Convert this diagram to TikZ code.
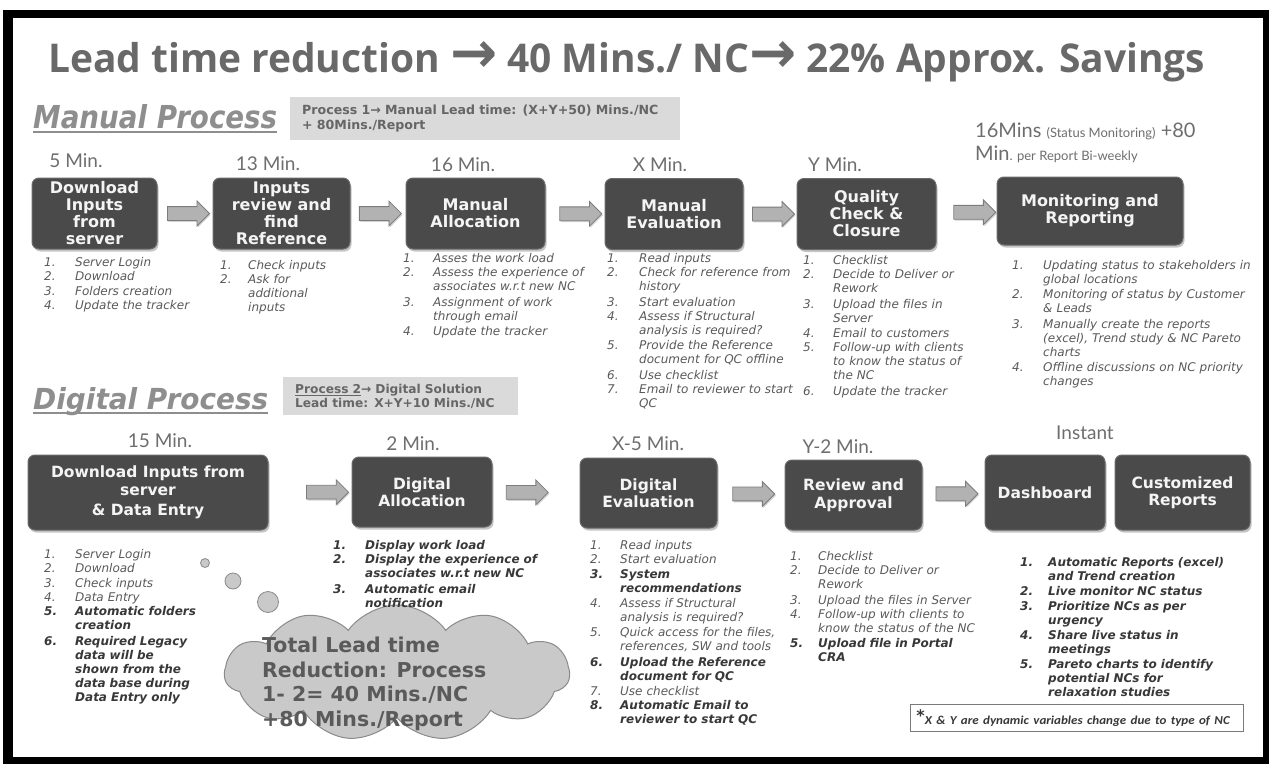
\documentclass[tikz,border=0pt]{standalone}
\usepackage{fontspec}
\setmainfont{DejaVu Sans}
\newfontfamily\ttlfont{Open Sans}
\newfontfamily\timefont{Lato}
\newfontfamily\notefont{Carlito}
\newfontfamily\symf{DejaVu Sans}
\usetikzlibrary{shapes.symbols,shapes.arrows,shadows,calc}

\definecolor{boxfill}{HTML}{4A4A4A}
\definecolor{boxedge}{HTML}{6A6A6A}
\definecolor{boxtext}{HTML}{F4F4F4}
\definecolor{arrfill}{HTML}{B2B2B2}
\definecolor{arredge}{HTML}{7C7C7C}
\definecolor{txtgray}{HTML}{5A5A5A}
\definecolor{txtdark}{HTML}{383838}
\definecolor{headgray}{HTML}{8E8E8E}
\definecolor{titlegray}{HTML}{696969}
\definecolor{timegray}{HTML}{6E6E6E}
\definecolor{panelgray}{HTML}{DADADA}
\definecolor{paneltext}{HTML}{666666}
\definecolor{cloudfill}{HTML}{C9C9C9}
\definecolor{cloudedge}{HTML}{8A8A8A}
\definecolor{notegray}{HTML}{7A7A7A}

\newlength\lind
% one numbered entry: number in a fixed slot, wrapped text kept under its first line
\newcommand\itm[2]{\par\noindent\makebox[\lind][l]{\strut#1}%
  \parbox[t]{225pt}{\raggedright\strut#2\strut}}
% the same entry set in bold
\newcommand\bitm[2]{\itm{\textcolor{txtdark}{\bfseries #1}}{\textcolor{txtdark}{\bfseries #2}}}

\tikzset{
  pbox/.style={rectangle, rounded corners=7pt, fill=boxfill, draw=boxedge, line width=1pt,
    text=boxtext, align=center, inner sep=2pt,
    drop shadow={shadow xshift=1.5pt, shadow yshift=-2.5pt, opacity=0.45}},
  mfont/.style={font=\bfseries\fontsize{16}{17}\selectfont},
  dfont/.style={font=\bfseries\fontsize{15.5}{17.5}\selectfont},
  barr/.style={single arrow, single arrow head extend=5.5pt, minimum height=42pt,
    inner xsep=0pt, inner ysep=6.5pt, fill=arrfill, draw=arredge, line width=0.8pt,
    drop shadow={shadow xshift=1pt, shadow yshift=-1.5pt, opacity=0.35}},
  tlab/.style={font=\timefont\fontsize{19}{22}\selectfont, text=timegray, inner sep=0pt, anchor=base},
  lst/.style={anchor=north west, inner sep=0pt, text width=270pt, align=left, text=txtgray,
    font=\fontsize{12}{14}\selectfont\itshape,
    execute at begin node={\setlength\lind{#1}\setlength\parskip{0.3pt}\lineskiplimit=-2pt\relax}},
  panel/.style={fill=panelgray, anchor=north west, inner xsep=12pt, inner ysep=0pt, align=left,
    text=paneltext},
  bubble/.style={circle, draw=cloudedge, fill=cloudfill, inner sep=0pt, line width=0.8pt},
}

\begin{document}
\begin{tikzpicture}[x=1pt,y=-1pt]
\useasboundingbox (0,0) rectangle (1269,768);
\fill[white] (0,0) rectangle (1269,768);
% frame
\fill[black] (3,10) rectangle (1269,764);
\fill[white] (13,18) rectangle (1263,757);

% title
\node[anchor=base west, inner sep=0pt, text=titlegray] (title) at (48,72)
  {\resizebox{1157pt}{31pt}{\ttlfont\bfseries Lead time reduction {\symf\bfseries\scalebox{1.45}{→}} 40 Mins./ NC{\symf\bfseries\scalebox{1.45}{→}} 22\% Approx. Savings}};

% ---------------- manual process ----------------
\node[anchor=base west, inner sep=0pt, text=headgray] (hman) at (33,128)
  {\resizebox{244pt}{24pt}{\bfseries\itshape Manual Process}};
\draw[headgray, line width=1.4pt] ([yshift=-4pt]hman.base west) -- ([yshift=-4pt]hman.base east);

\node[panel, minimum width=390pt, minimum height=43pt, text width=366pt,
  font=\bfseries\fontsize{12.6}{14.5}\selectfont] (p1) at (290,97)
  {Process 1→ Manual Lead time: (X+Y+50) Mins./NC\\+ 80Mins./Report};

\node[tlab] (t1) at (76,167) {5 Min.};
\node[tlab] (t2) at (268,170) {13 Min.};
\node[tlab] (t3) at (463,171) {16 Min.};
\node[tlab] (t4) at (660,171) {X Min.};
\node[tlab] (t5) at (835,171) {Y Min.};
\node[anchor=base west, inner sep=0pt, text=timegray, font=\timefont] (t6a) at (975,137)
  {\fontsize{20}{23}\selectfont 16Mins {\fontsize{13}{15}\selectfont (Status Monitoring)} +80};
\node[anchor=base west, inner sep=0pt, text=timegray, font=\timefont] (t6b) at (975,160)
  {\fontsize{20}{23}\selectfont Min{\fontsize{13}{15}\selectfont . per Report Bi-weekly}};

\node[pbox, mfont, minimum width=125pt, minimum height=71pt] (m1) at (94.5,213.5) {Download\\Inputs\\from\\server};
\node[pbox, mfont, minimum width=137pt, minimum height=71pt] (m2) at (281.5,213.5) {Inputs\\review and\\find\\Reference};
\node[pbox, mfont, minimum width=139pt, minimum height=71pt] (m3) at (475.5,213.5) {Manual\\Allocation};
\node[pbox, mfont, minimum width=138pt, minimum height=71pt] (m4) at (674,214) {Manual\\Evaluation};
\node[pbox, mfont, minimum width=139pt, minimum height=71pt] (m5) at (866.5,214) {Quality\\Check \&\\Closure};
\node[pbox, mfont, minimum width=186pt, minimum height=68pt] (m6) at (1090,211) {Monitoring and\\Reporting};

\node[barr] (ma1) at ($(m1.east)!0.5!(m2.west)$) {};
\node[barr] (ma2) at ($(m2.east)!0.48!(m3.west)$) {};
\node[barr] (ma3) at ($(m3.east)!0.54!(m4.west)$) {};
\node[barr] (ma4) at ($(m4.east)!0.5!(m5.west)$) {};
\node[barr] (ma5) at ($(m5.east)!0.58!(m6.west)$) {};

\node[lst=31pt] (ml1) at (44,252) {%
  \itm{1.}{Server Login}\itm{2.}{Download}\itm{3.}{Folders creation}\itm{4.}{Update the tracker}};
\node[lst=28pt] (ml2) at (220,255) {%
  \itm{1.}{Check inputs}\itm{2.}{Ask for\newline additional\newline inputs}};
\node[lst=30pt] (ml3) at (403,248) {%
  \itm{1.}{Asses the work load}\itm{2.}{Assess the experience of\newline associates w.r.t new NC}%
  \itm{3.}{Assignment of work\newline through email}\itm{4.}{Update the tracker}};
\node[lst=32pt] (ml4) at (607,248) {%
  \itm{1.}{Read inputs}\itm{2.}{Check for reference from\newline history}\itm{3.}{Start evaluation}%
  \itm{4.}{Assess if Structural\newline analysis is required?}%
  \itm{5.}{Provide the Reference\newline document for QC offline}\itm{6.}{Use checklist}%
  \itm{7.}{Email to reviewer to start\newline QC}};
\node[lst=30pt] (ml5) at (803,250) {%
  \itm{1.}{Checklist}\itm{2.}{Decide to Deliver or\newline Rework}\itm{3.}{Upload the files in\newline Server}%
  \itm{4.}{Email to customers}\itm{5.}{Follow-up with clients\newline to know the status of\newline the NC}%
  \itm{6.}{Update the tracker}};
\node[lst=31pt] (ml6) at (1012,255) {%
  \itm{1.}{Updating status to stakeholders in\newline global locations}%
  \itm{2.}{Monitoring of status by Customer\newline \& Leads}%
  \itm{3.}{Manually create the reports\newline (excel), Trend study \& NC Pareto\newline charts}%
  \itm{4.}{Offline discussions on NC priority\newline changes}};

% ---------------- digital process ----------------
\node[anchor=base west, inner sep=0pt, text=headgray] (hdig) at (33,409)
  {\resizebox{235pt}{22pt}{\bfseries\itshape Digital Process}};
\draw[headgray, line width=1.4pt] ([yshift=-4pt]hdig.base west) -- ([yshift=-4pt]hdig.base east);

\node[panel, minimum width=235pt, minimum height=38pt, text width=211pt,
  font=\bfseries\fontsize{12.2}{14}\selectfont] (p2) at (283,377)
  {\underline{Process 2}→ Digital Solution\\Lead time: X+Y+10 Mins./NC};

\node[tlab] (u1) at (160,447) {15 Min.};
\node[tlab] (u2) at (413,450) {2 Min.};
\node[tlab] (u3) at (648,450) {X-5 Min.};
\node[tlab] (u4) at (838,453) {Y-2 Min.};
\node[tlab] (u5) at (1085,439) {Instant};

\node[pbox, dfont, minimum width=240pt, minimum height=75pt] (d1) at (148,492.5) {Download Inputs from\\server\\[3pt]\& Data Entry};
\node[pbox, dfont, minimum width=140pt, minimum height=70pt] (d2) at (422,492) {Digital\\Allocation};
\node[pbox, dfont, minimum width=137pt, minimum height=70pt] (d3) at (648.5,493) {Digital\\Evaluation};
\node[pbox, dfont, minimum width=137pt, minimum height=70pt] (d4) at (853.5,495) {Review and\\Approval};
\node[pbox, dfont, minimum width=120pt, minimum height=75pt] (d5) at (1045,492.5) {Dashboard};
\node[pbox, dfont, minimum width=135pt, minimum height=75pt] (d6) at (1182.5,492.5) {Customized\\Reports};

\node[barr] (da1) at ($(d1.east)!0.67!(d2.west)$) {};
\node[barr] (da2) at ($(d2.east)!0.36!(d3.west)$) {};
\node[barr] (da3) at ($(d3.east)!0.49!(d4.west)$) {};
\node[barr] (da4) at ($(d4.east)!0.5!(d5.west)$) {};

% thought cloud (drawn before the lists so their text stays on top)
\node[bubble, minimum size=9pt] (b1) at (205,563) {};
\node[bubble, minimum size=16pt] (b2) at (233,581) {};
\node[bubble, minimum size=21pt] (b3) at (268,602) {};
\node[cloud, cloud puffs=11, cloud puff arc=110, cloud ignores aspect, minimum width=345pt,
  minimum height=136pt, draw=cloudedge, fill=cloudfill, line width=1pt] (cl) at (397,673) {};
\node[anchor=north west, inner sep=0pt, align=left, text=txtgray,
  font=\bfseries\fontsize{20.5}{24.5}\selectfont] (cltext) at (262,637)
  {Total Lead time\\Reduction: Process\\1- 2= 40 Mins./NC\\+80 Mins./Report};

\node[lst=31pt] (dl1) at (44,544) {%
  \itm{1.}{Server Login}\itm{2.}{Download}\itm{3.}{Check inputs}\itm{4.}{Data Entry}%
  \bitm{5.}{Automatic folders\newline creation}%
  \bitm{6.}{Required Legacy\newline data will be\newline shown from the\newline data base during\newline Data Entry only}};
\node[lst=32pt] (dl2) at (333,535) {%
  \bitm{1.}{Display work load}\bitm{2.}{Display the experience of\newline associates w.r.t new NC}%
  \bitm{3.}{Automatic email\newline notification}};
\node[lst=30pt] (dl3) at (590,535) {%
  \itm{1.}{Read inputs}\itm{2.}{Start evaluation}\bitm{3.}{System\newline recommendations}%
  \itm{4.}{Assess if Structural\newline analysis is required?}%
  \itm{5.}{Quick access for the files,\newline references, SW and tools}%
  \bitm{6.}{Upload the Reference\newline document for QC}\itm{7.}{Use checklist}%
  \bitm{8.}{Automatic Email to\newline reviewer to start QC}};
\node[lst=28pt] (dl4) at (790,546) {%
  \itm{1.}{Checklist}\itm{2.}{Decide to Deliver or\newline Rework}\itm{3.}{Upload the files in Server}%
  \itm{4.}{Follow-up with clients to\newline know the status of the NC}%
  \bitm{5.}{Upload file in Portal\newline CRA}};
\node[lst=28pt] (dl5) at (1020,552) {%
  \bitm{1.}{Automatic Reports (excel)\newline and Trend creation}\bitm{2.}{Live monitor NC status}%
  \bitm{3.}{Prioritize NCs as per\newline urgency}\bitm{4.}{Share live status in\newline meetings}%
  \bitm{5.}{Pareto charts to identify\newline potential NCs for\newline relaxation studies}};

% footnote
\node[draw=notegray, line width=0.8pt, fill=white, anchor=north west, minimum width=333pt,
  minimum height=27pt, inner xsep=6pt, text width=321pt, align=left, text=txtdark] (note) at (910,704)
  {\raisebox{3pt}{\fontsize{16}{16}\selectfont\bfseries *}\resizebox{305pt}{8.5pt}{\notefont\bfseries\itshape X \& Y are dynamic variables change due to type of NC}};
\end{tikzpicture}
\end{document}
